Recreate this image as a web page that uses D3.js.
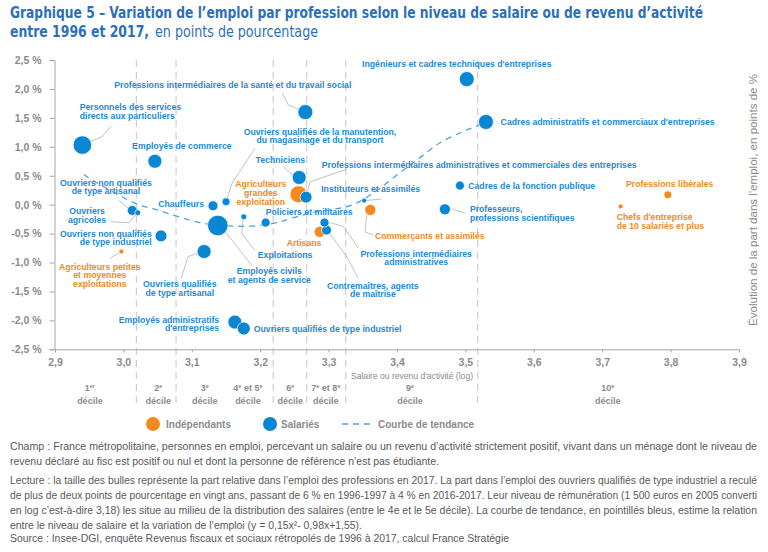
<!DOCTYPE html>
<html><head><meta charset="utf-8">
<script src="https://cdn.jsdelivr.net/npm/d3@7"></script>
<style>
body{margin:0;background:#fff;}
svg{display:block;font-family:"Liberation Sans",Arial,sans-serif;}
</style></head><body>
<svg id="chart" width="768" height="552"></svg>
<script>
// ---------------- DATA ----------------
const professions = [
  "Personnels des services directs aux particuliers",
  "Employés de commerce",
  "Ouvriers non qualifiés de type artisanal",
  "Ouvriers agricoles",
  "Ouvriers non qualifiés de type industriel",
  "Ouvriers qualifiés de type artisanal",
  "Employés administratifs d'entreprises",
  "Ouvriers qualifiés de type industriel",
  "Chauffeurs",
  "Ouvriers qualifiés de la manutention, du magasinage et du transport",
  "Employés civils et agents de service",
  "Exploitations",
  "Policiers et militaires",
  "Techniciens",
  "Professions intermédiaires de la santé et du travail social",
  "Professions intermédiaires administratives et commerciales des entreprises",
  "Ingénieurs et cadres techniques d'entreprises",
  "Cadres administratifs et commerciaux d'entreprises",
  "Cadres de la fonction publique",
  "Instituteurs et assimilés",
  "Professeurs, professions scientifiques",
  "Professions intermédiaires administratives",
  "Contremaîtres, agents de maîtrise",
  "Agriculteurs grandes exploitation",
  "Commerçants et assimilés",
  "Artisans",
  "Agriculteurs petites et moyennes exploitations",
  "Professions libérales",
  "Chefs d'entreprise de 10 salariés et plus"
];
const status = ["S","S","S","S","S","S","S","S","S","S","S","S","S","S","S","S","S","S","S","S","S","S","S",
                "I","I","I","I","I","I"];
// log salary (x) and change of employment share in points (y)
const salaryLog = [2.940,3.046,3.013,3.021,3.055,3.118,3.163,3.176,3.131,3.150,3.138,3.176,3.208,3.257,3.266,3.267,
                   3.502,3.530,3.492,3.352,3.470,3.294,3.297,
                   3.256,3.361,3.287,2.997,3.796,3.727];
const employmentChange = [1.03,0.75,-0.10,-0.14,-0.54,-0.81,-2.03,-2.14,-0.02,0.05,-0.36,-0.21,-0.31,0.47,1.60,0.13,
                   2.17,1.43,0.33,0.07,-0.08,-0.31,-0.44,
                   0.18,-0.09,-0.47,-0.81,0.17,-0.03];
// share of employment in 2017 (%), bubble size
const employmentShare = [7.0,4.0,2.0,0.7,2.9,4.0,4.0,3.4,2.0,1.3,8.6,0.7,1.65,4.0,4.6,2.9,
                   4.6,4.6,1.65,0.5,2.5,1.65,2.0,
                   5.9,2.5,2.5,0.5,1.3,0.5];
// trend curve
const trendSalary = [2.942,2.958,3.021,3.049,3.112,3.160,3.195,3.224,3.272,3.334,3.365,3.404,3.429,3.463,3.502,3.524];
const trendChange = [0.52,0.40,0.005,-0.09,-0.31,-0.37,-0.365,-0.31,-0.15,-0.007,0.20,0.55,0.77,1.07,1.29,1.39];

const xTickValues = [2.9,3.0,3.1,3.2,3.3,3.4,3.5,3.6,3.7,3.8,3.9];
const yTickValues = [2.5,2.0,1.5,1.0,0.5,0.0,-0.5,-1.0,-1.5,-2.0,-2.5];
const decileBounds = [3.019,3.077,3.219,3.268,3.325,3.518];
const decileLabels = [[["1","er"]],[["2","e"]],[["3","e"]],[["4","e"],[" et 5","e"]],[["6","e"]],[["7","e"],[" et 8","e"]],[["9","e"]],[["10","e"]]];
const decileCenters = [2.951,3.051,3.119,3.182,3.244,3.296,3.419,3.708];

// ---------------- LAYOUT (label offsets from bubble, px) ----------------
const labelLayout = [
  {lines:["Personnels des services","directs aux particuliers"],anchor:"start",dx:-2.7,dy:-37.7,leader:[[29,-19],[19,-8],[0,0]]},
  {lines:["Employés de commerce"],anchor:"middle",dx:27,dy:-15},
  {lines:["Ouvriers non qualifiés","de type artisanal"],anchor:"middle",dx:-26.3,dy:-28,leader:[[-14,-11],[-7,-4],[0,0]]},
  {lines:["Ouvriers","agricoles"],anchor:"middle",dx:-50.7,dy:-2,leader:[[-27,9],[-9,10],[0,0]]},
  {lines:["Ouvriers non qualifiés","de type industriel"],anchor:"end",dx:-9.3,dy:-2.4},
  {lines:["Ouvriers qualifiés","de type artisanal"],anchor:"middle",dx:-24.3,dy:32.3,leader:[[-23,27],[-16,5],[0,0]]},
  {lines:["Employés administratifs","d'entreprises"],anchor:"end",dx:-15.7,dy:-2.6},
  {lines:["Ouvriers qualifiés de type industriel"],anchor:"start",dx:10,dy:0},
  {lines:["Chauffeurs"],anchor:"end",dx:-9,dy:-2},
  {lines:["Ouvriers qualifiés de la manutention,","du magasinage et du transport"],anchor:"middle",dx:94,dy:-70.2,leader:[[28.7,-53],[5.7,-18],[0,0]]},
  {lines:["Employés civils","et agents de service"],anchor:"middle",dx:51.5,dy:45.3,leader:[[0,0],[9,8],[34,40]]},
  {lines:["Exploitations"],anchor:"middle",dx:41.3,dy:38.3,leader:[[0,0],[-1,5],[-2,16.6],[11.3,34]]},
  {lines:["Policiers et militaires"],anchor:"start",dx:0,dy:-10.6},
  {lines:["Techniciens"],anchor:"middle",dx:-18.8,dy:-17.3,leader:[[-16,-11],[-9,-4],[0,0]]},
  {lines:["Professions intermédiaires de la santé et du travail social"],anchor:"middle",dx:-72.5,dy:-27,leader:[[-23,-19],[-17,-7],[0,0]]},
  {lines:["Professions intermédiaires administratives et commerciales des entreprises"],anchor:"start",dx:15.7,dy:-32,leader:[[40.7,-28],[4,-15.3],[0,0]]},
  {lines:["Ingénieurs et cadres techniques d'entreprises"],anchor:"start",dx:-104.7,dy:-15},
  {lines:["Cadres administratifs et commerciaux d'entreprises"],anchor:"start",dx:14.7,dy:0},
  {lines:["Cadres de la fonction publique"],anchor:"start",dx:8.3,dy:0.3},
  {lines:["Instituteurs et assimilés"],anchor:"middle",dx:6.5,dy:-11.4,leader:[[0,0],[17,-1.5]]},
  {lines:["Professeurs,","professions scientifiques"],anchor:"start",dx:25,dy:-0.3,leader:[[8,0],[20,4]]},
  {lines:["Professions intermédiaires","administratives"],anchor:"middle",dx:91.7,dy:31,leader:[[0,0],[7.4,0.6],[19,4],[34,25.6]]},
  {lines:["Contremaîtres, agents","de maîtrise"],anchor:"middle",dx:46.3,dy:55.4,leader:[[0,0],[1.6,1.4],[20,26.4],[31.6,48]]},
  {lines:["Agriculteurs","grandes","exploitation"],anchor:"middle",dx:-37.7,dy:-10},
  {lines:["Commerçants et assimilés"],anchor:"start",dx:4.7,dy:26.3,leader:[[0,0],[-3.6,5.3],[-5.3,22],[3,25.3]]},
  {lines:["Artisans"],anchor:"end",dx:1.7,dy:10.6},
  {lines:["Agriculteurs petites","et moyennes","exploitations"],anchor:"middle",dx:-21.5,dy:15,leader:[[0,0],[-2.7,1.6],[-11,6.6]]},
  {lines:["Professions libérales"],anchor:"middle",dx:1.8,dy:-10.7},
  {lines:["Chefs d'entreprise","de 10 salariés et plus"],anchor:"start",dx:-4,dy:10.4}
];

const COLORS = {S:"#0a87d2", I:"#f5891e"};
const LABEL_COLORS = {S:"#1c8ad6", I:"#f08a1c"};
const GRAY = "#8c8c8c";

// ---------------- CHART ----------------
const svg = d3.select("#chart");
const x = d3.scaleLinear().domain([2.9,3.9]).range([55,739]);
const y = d3.scaleLinear().domain([-2.5,2.5]).range([349.3,60]);
const r = d3.scaleSqrt().domain([0,4]).range([0,7]);

// Title
const title = svg.append("g").attr("fill","#2d6fb8").style("font-family","'Liberation Sans Narrow','DejaVu Sans Condensed','Liberation Sans',sans-serif");
title.append("text").attr("x",10).attr("y",18).attr("font-size",16).attr("font-weight","bold")
  .attr("textLength",693).attr("lengthAdjust","spacingAndGlyphs")
  .text("Graphique 5 – Variation de l’emploi par profession selon le niveau de salaire ou de revenu d’activité");
title.append("text").attr("x",10).attr("y",37).attr("font-size",16).attr("font-weight","bold")
  .attr("textLength",139).attr("lengthAdjust","spacingAndGlyphs").text("entre 1996 et 2017,");
title.append("text").attr("x",155).attr("y",37).attr("font-size",16)
  .attr("textLength",163).attr("lengthAdjust","spacingAndGlyphs").text("en points de pourcentage");

// Decile dashed separators
svg.append("g").selectAll("line").data(decileBounds).join("line")
  .attr("x1",d=>x(d)).attr("x2",d=>x(d)).attr("y1",y(2.5)).attr("y2",407)
  .attr("stroke","#cfcfcf").attr("stroke-width",1.2).attr("stroke-dasharray","7,5");

// Axes
const fmtY = d => (d<0?"-":"") + Math.abs(d).toFixed(1).replace(".",",") + " %";
const yAxis = svg.append("g").attr("transform",`translate(${x(2.9)-0.5},0)`)
  .call(d3.axisLeft(y).tickValues(yTickValues).tickSize(5).tickPadding(8).tickFormat(fmtY));
const xAxis = svg.append("g").attr("transform",`translate(0,${y(-2.5)})`)
  .call(d3.axisBottom(x).tickValues(xTickValues).tickSize(3).tickPadding(6).tickFormat(d=>d.toFixed(1).replace(".",",")));
[yAxis,xAxis].forEach(a=>{
  a.select(".domain").attr("stroke","#a6a6a6");
  a.selectAll(".tick line").attr("stroke","#a6a6a6");
  a.selectAll(".tick text").attr("fill",GRAY).attr("font-size",10.5).attr("font-weight","bold")
    .style("font-family","'Liberation Sans',Arial,sans-serif");
});

// X axis title
svg.append("text").attr("x",412).attr("y",379).attr("text-anchor","middle").attr("fill",GRAY)
  .attr("font-size",9.5).attr("textLength",122).attr("lengthAdjust","spacingAndGlyphs")
  .text("Salaire ou revenu d'activité (log)");

// Decile labels (superscripts via relative dy only)
const dg = svg.append("g").attr("fill",GRAY).attr("font-weight","bold").attr("text-anchor","middle");
decileLabels.forEach((parts,i)=>{
  const t = dg.append("text").attr("x",x(decileCenters[i])).attr("y",391).attr("font-size",9);
  parts.forEach((p,k)=>{
    t.append("tspan").attr("dy",k>0?3.5:0).attr("font-size",9).text(p[0]);
    t.append("tspan").attr("dy",-3.5).attr("font-size",5.5).text(p[1]);
  });
  dg.append("text").attr("x",x(decileCenters[i])).attr("y",404).attr("font-size",9).text("décile");
});

// Y axis title (right)
svg.append("text").attr("transform",`translate(757,200) rotate(-90)`).attr("text-anchor","middle")
  .attr("fill",GRAY).attr("font-size",11).attr("textLength",252).attr("lengthAdjust","spacingAndGlyphs")
  .text("Évolution de la part dans l'emploi, en points de %");

// Data table
const rows = professions.map((name,i)=>({name,status:status[i],sx:salaryLog[i],cy:employmentChange[i],share:employmentShare[i],lab:labelLayout[i]}));

// Leader lines
const lg = svg.append("g").attr("fill","none").attr("stroke","#b3b3b3").attr("stroke-width",0.8);
rows.forEach(d=>{
  if(!d.lab.leader) return;
  const cx = x(d.sx), cy = y(d.cy);
  lg.append("polyline").attr("points",d.lab.leader.map(p=>[cx+p[0],cy+p[1]].join(",")).join(" "));
});

// Trend curve
svg.append("path").datum(trendSalary.map((s,i)=>[s,trendChange[i]]))
  .attr("d",d3.line().x(d=>x(d[0])).y(d=>y(d[1])).curve(d3.curveCatmullRom))
  .attr("fill","none").attr("stroke","#4ca5e0").attr("stroke-width",1.3).attr("stroke-dasharray","6,5");

// Bubbles
svg.append("g").selectAll("circle").data(rows.slice().sort((a,b)=>b.share-a.share)).join("circle")
  .attr("cx",d=>x(d.sx)).attr("cy",d=>y(d.cy)).attr("r",d=>r(d.share))
  .attr("fill",d=>COLORS[d.status]).attr("stroke","#fff").attr("stroke-width",0.7);

// Labels
const tg = svg.append("g").attr("font-size",8.7).attr("font-weight","bold");
rows.forEach(d=>{
  const cx = x(d.sx), cy = y(d.cy);
  const t = tg.append("text").attr("text-anchor",d.lab.anchor).attr("fill",LABEL_COLORS[d.status]);
  d.lab.lines.forEach((ln,k)=>{
    t.append("tspan").attr("x",cx+d.lab.dx).attr("y",cy+d.lab.dy+k*8.8+3.1).text(ln);
  });
});

// Legend
const leg = svg.append("g").attr("font-size",10).attr("font-weight","bold").attr("fill",GRAY);
leg.append("circle").attr("cx",153).attr("cy",424).attr("r",7).attr("fill",COLORS.I);
leg.append("text").attr("x",166).attr("y",427.5).text("Indépendants");
leg.append("circle").attr("cx",270).attr("cy",424).attr("r",7).attr("fill",COLORS.S);
leg.append("text").attr("x",281).attr("y",427.5).text("Salariés");
leg.append("line").attr("x1",342).attr("x2",371).attr("y1",424).attr("y2",424)
  .attr("stroke","#4ca5e0").attr("stroke-width",1.3).attr("stroke-dasharray","6,5");
leg.append("text").attr("x",378).attr("y",427.5).text("Courbe de tendance");

// Notes
const notes = [
  {t:"Champ : France métropolitaine, personnes en emploi, percevant un salaire ou un revenu d’activité strictement positif, vivant dans un ménage dont le niveau de", w:747, yy:450},
  {t:"revenu déclaré au fisc est positif ou nul et dont la personne de référence n’est pas étudiante.", w:429, yy:465},
  {t:"Lecture : la taille des bulles représente la part relative dans l’emploi des professions en 2017. La part dans l’emploi des ouvriers qualifiés de type industriel a reculé", w:747, yy:484},
  {t:"de plus de deux points de pourcentage en vingt ans, passant de 6 % en 1996-1997 à 4 % en 2016-2017. Leur niveau de rémunération (1 500 euros en 2005 converti", w:747, yy:499},
  {t:"en log c’est-à-dire 3,18) les situe au milieu de la distribution des salaires (entre le 4e et le 5e décile). La courbe de tendance, en pointillés bleus, estime la relation", w:747, yy:514},
  {t:"entre le niveau de salaire et la variation de l’emploi (y = 0,15x²- 0,98x+1,55).", w:352, yy:529},
  {t:"Source : Insee-DGI, enquête Revenus fiscaux et sociaux rétropolés de 1996 à 2017, calcul France Stratégie", w:499, yy:542}
];
const ng = svg.append("g").attr("fill","#595959").attr("font-size",10.5)
  .style("font-family","'Liberation Sans Narrow','Liberation Sans',Arial,sans-serif");
notes.forEach(n=>{
  ng.append("text").attr("x",10).attr("y",n.yy).attr("textLength",n.w).attr("lengthAdjust","spacingAndGlyphs").text(n.t);
});
</script>
</body></html>
